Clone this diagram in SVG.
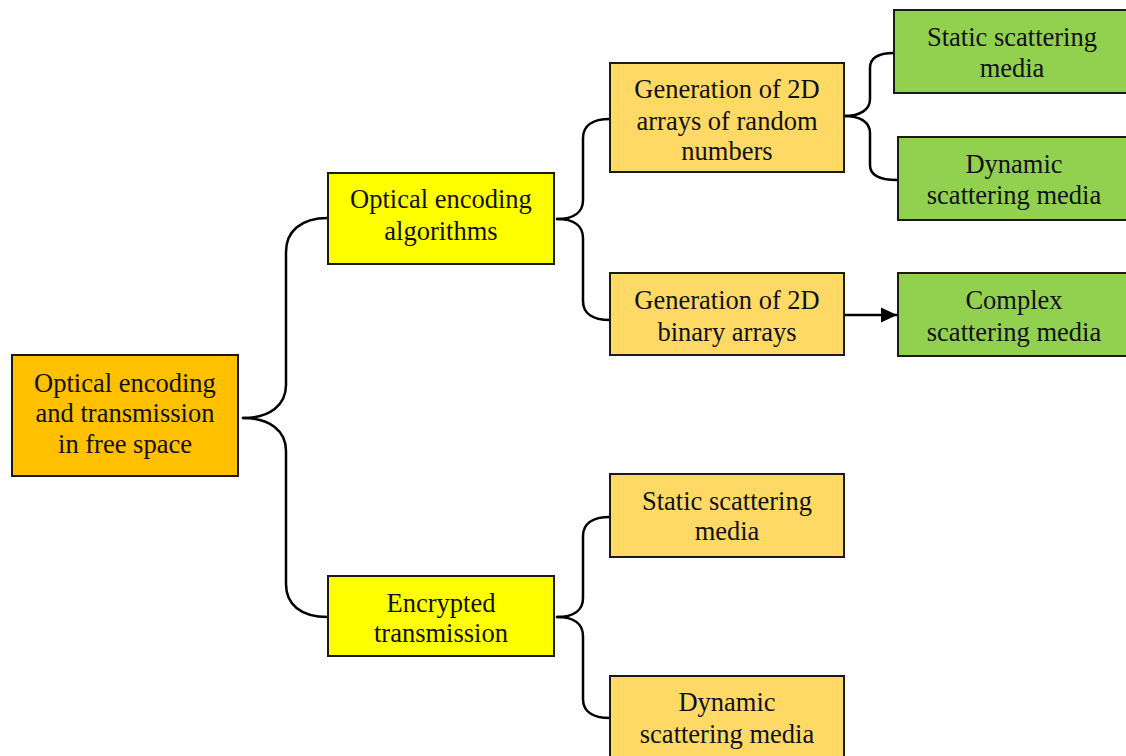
<svg xmlns="http://www.w3.org/2000/svg" width="1126" height="756" viewBox="0 0 1126 756">
  <style>
    .box { stroke: #1a1a1a; stroke-width: 2; }
    .root { fill: #FFC000; }
    .l1 { fill: #FFFF00; }
    .l2 { fill: #FFD966; }
    .l3 { fill: #92D050; }
    .brace { fill: none; stroke: #000; stroke-width: 2.5; stroke-linecap: round; }
    text { font-family: "Liberation Serif", "Times New Roman", serif; font-size: 26.5px; fill: #111; text-anchor: middle; }
  </style>
  <defs>
    <marker id="arrow" markerWidth="16" markerHeight="16" refX="16" refY="8" orient="auto" markerUnits="userSpaceOnUse">
      <path d="M0,0.5 L16,8 L0,15.5 Z" fill="#000"/>
    </marker>
  </defs>

  <rect width="1126" height="756" fill="#fff"/>

  <g id="connectors">
    <path class="brace" d="M243,418 C270,418 286,405 286,385 L286,252 C286,232 300,218 328,218"/>
    <path class="brace" d="M243,418 C270,418 286,431 286,451 L286,584 C286,604 300,617 328,617"/>
    <path class="brace" d="M557,219 C574,219 583,212 583,200 L583,138 C583,126 592,119 610,119"/>
    <path class="brace" d="M557,219 C574,219 583,226 583,238 L583,301 C583,313 592,320 610,320"/>
    <path class="brace" d="M844,116 C860,116 870,110 870,99 L870,68 C870,58 878,53 894,53"/>
    <path class="brace" d="M844,116 C860,116 870,122 870,133 L870,165 C870,175 879,180 897,180"/>
    <path class="brace" d="M557,617 C574,617 583,610 583,598 L583,536 C583,524 592,517 610,517"/>
    <path class="brace" d="M557,617 C574,617 583,624 583,636 L583,699 C583,711 592,718 610,718"/>
    <line x1="845" y1="315" x2="897" y2="315" stroke="#000" stroke-width="2.5" marker-end="url(#arrow)"/>
  </g>

  <g id="node-root">
    <rect class="box root" x="12" y="355" width="226" height="121"/>
    <text x="125" y="392">Optical encoding</text>
    <text x="125" y="422">and transmission</text>
    <text x="125" y="453">in free space</text>
  </g>

  <g id="node-encoding">
    <rect class="box l1" x="328" y="173" width="226" height="91"/>
    <text x="441" y="208">Optical encoding</text>
    <text x="441" y="240">algorithms</text>
  </g>

  <g id="node-encrypted">
    <rect class="box l1" x="328" y="576" width="226" height="80"/>
    <text x="441" y="612">Encrypted</text>
    <text x="441" y="642">transmission</text>
  </g>

  <g id="node-random">
    <rect class="box l2" x="610" y="63" width="234" height="109"/>
    <text x="727" y="98">Generation of 2D</text>
    <text x="727" y="130">arrays of random</text>
    <text x="727" y="160">numbers</text>
  </g>

  <g id="node-binary">
    <rect class="box l2" x="610" y="273" width="234" height="82"/>
    <text x="727" y="309">Generation of 2D</text>
    <text x="727" y="341">binary arrays</text>
  </g>

  <g id="node-static-2">
    <rect class="box l2" x="610" y="474" width="234" height="83"/>
    <text x="727" y="510">Static scattering</text>
    <text x="727" y="540">media</text>
  </g>

  <g id="node-dynamic-2">
    <rect class="box l2" x="610" y="676" width="234" height="90"/>
    <text x="727" y="711">Dynamic</text>
    <text x="727" y="743">scattering media</text>
  </g>

  <g id="node-static-1">
    <rect class="box l3" x="894" y="10" width="240" height="83"/>
    <text x="1012" y="46">Static scattering</text>
    <text x="1012" y="77">media</text>
  </g>

  <g id="node-dynamic-1">
    <rect class="box l3" x="898" y="137" width="240" height="83"/>
    <text x="1014" y="173">Dynamic</text>
    <text x="1014" y="204">scattering media</text>
  </g>

  <g id="node-complex">
    <rect class="box l3" x="898" y="273" width="240" height="83"/>
    <text x="1014" y="309">Complex</text>
    <text x="1014" y="341">scattering media</text>
  </g>
</svg>
